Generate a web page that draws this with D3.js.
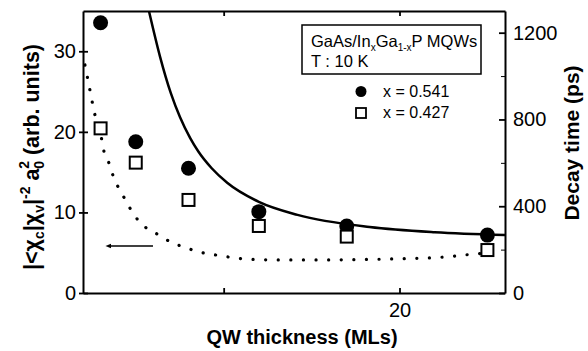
<!DOCTYPE html>
<html>
<head>
<meta charset="utf-8">
<script src="https://cdn.jsdelivr.net/npm/d3@7"></script>
<style>
  body { margin: 0; background: #fff; }
  svg { display: block; font-family: "Liberation Sans", Arial, sans-serif; }
</style>
</head>
<body>
<div id="chart"></div>
<script>
// QW thickness (MLs)
var thickness = [3, 5, 8, 12, 17, 25];
// decay time (ps), right axis
var decay541 = [1246, 697, 575, 375, 309, 267];
var decay427 = [759, 601, 429, 309, 260, 198];

// solid curve (x in MLs, y in ps)
var fitX = [5.75, 6.38, 7.0, 7.52, 8.09, 8.56, 9.32, 10.2, 12.0, 14.2, 18.3, 22, 26];
var fitY = [1300, 1090, 920, 810, 715, 652, 575, 508, 420, 360, 304, 280, 267];

// dotted curve, left axis
var calcX = [2.11, 2.24, 2.68, 3.06, 3.19, 3.48, 3.72, 4.06, 4.43, 4.84, 5.53, 6.32, 7.01, 7.75, 8.43, 9.89, 11.3, 13.2, 15.5, 17.8, 20.0, 22.6, 24.1, 25.4];
var calcY = [28.3, 26.9, 22.1, 19.1, 17.6, 16.1, 14.5, 12.9, 11.5, 9.9, 8.2, 7.2, 6.3, 5.7, 5.2, 4.6, 4.2, 4.1, 4.1, 4.15, 4.25, 4.47, 4.8, 5.0];

var xTicks = [10, 20];
var xLabels = [20];
var leftTicks = [0, 10, 20, 30];
var rightTicks = [0, 400, 800, 1200];
var rightMinor = [200, 600, 1000];

var legendNames = ["x = 0.541", "x = 0.427"];

function init() {
  var w = 588, h = 351;
  var margin = {top: 11, right: 83, bottom: 58, left: 83};

  var svg = d3.select("#chart").append("svg")
    .attr("width", w).attr("height", h);

  var xScale = d3.scaleLinear().domain([2, 26]).range([margin.left, w - margin.right]);
  var yLeft = d3.scaleLinear().domain([0, 35]).range([h - margin.bottom, margin.top]);
  var yRight = d3.scaleLinear().domain([0, 1300]).range([h - margin.bottom, margin.top]);

  var x0 = margin.left, x1 = w - margin.right;
  var y0 = h - margin.bottom, y1 = margin.top;

  svg.append("clipPath").attr("id", "clip")
    .append("rect").attr("x", x0).attr("y", y1)
    .attr("width", x1 - x0).attr("height", y0 - y1);

  // dotted curve
  var calc = calcX.map(function(d, i) { return [d, calcY[i]]; });
  svg.append("path")
    .datum(calc)
    .attr("clip-path", "url(#clip)")
    .attr("fill", "none")
    .attr("stroke", "#000")
    .attr("stroke-width", 3.2)
    .attr("stroke-linecap", "round")
    .attr("stroke-dasharray", "0.1,12.5")
    .attr("d", d3.line()
      .x(function(d) { return xScale(d[0]); })
      .y(function(d) { return yLeft(d[1]); })
      .curve(d3.curveMonotoneX));

  // solid curve
  var fit = fitX.map(function(d, i) { return [d, fitY[i]]; });
  svg.append("path")
    .datum(fit)
    .attr("clip-path", "url(#clip)")
    .attr("fill", "none")
    .attr("stroke", "#000")
    .attr("stroke-width", 2.5)
    .attr("d", d3.line()
      .x(function(d) { return xScale(d[0]); })
      .y(function(d) { return yRight(d[1]); })
      .curve(d3.curveMonotoneX));

  // arrow pointing to the left axis
  svg.append("defs").append("marker")
    .attr("id", "arrow")
    .attr("viewBox", "0 0 10 10")
    .attr("refX", 2).attr("refY", 5)
    .attr("markerWidth", 4).attr("markerHeight", 4)
    .attr("orient", "auto-start-reverse")
    .append("path").attr("d", "M0,1 L10,5 L0,9 Z").attr("fill", "#000");

  svg.append("line")
    .attr("x1", xScale(5.98)).attr("x2", xScale(3.55))
    .attr("y1", yLeft(5.83)).attr("y2", yLeft(5.83))
    .attr("stroke", "#000").attr("stroke-width", 1.5)
    .attr("marker-end", "url(#arrow)");

  // points
  svg.selectAll("circle.p541")
    .data(thickness)
    .enter().append("circle")
    .attr("class", "p541")
    .attr("cx", function(d) { return xScale(d); })
    .attr("cy", function(d, i) { return yRight(decay541[i]); })
    .attr("r", 7.5)
    .attr("fill", "#000");

  var sq = 12;
  svg.selectAll("rect.p427")
    .data(thickness)
    .enter().append("rect")
    .attr("class", "p427")
    .attr("x", function(d) { return xScale(d) - sq / 2; })
    .attr("y", function(d, i) { return yRight(decay427[i]) - sq / 2; })
    .attr("width", sq).attr("height", sq)
    .attr("fill", "#fff")
    .attr("stroke", "#000")
    .attr("stroke-width", 2);

  // axes
  var bottom = svg.append("g")
    .attr("transform", "translate(0," + y0 + ")")
    .call(d3.axisBottom(xScale).tickValues(xTicks)
      .tickSizeInner(-5).tickSizeOuter(0).tickPadding(10)
      .tickFormat(function(d) { return xLabels.indexOf(d) >= 0 ? d : ""; }));

  var top = svg.append("g")
    .attr("transform", "translate(0," + y1 + ")")
    .call(d3.axisTop(xScale).tickValues(xTicks)
      .tickSizeInner(-5).tickSizeOuter(0).tickFormat(""));

  var left = svg.append("g")
    .attr("transform", "translate(" + x0 + ",0)")
    .call(d3.axisLeft(yLeft).tickValues(leftTicks)
      .tickSizeInner(4).tickSizeOuter(0).tickPadding(3));
  left.selectAll(".tick line").attr("x2", -4).attr("x1", 5);

  var right = svg.append("g")
    .attr("transform", "translate(" + x1 + ",0)")
    .call(d3.axisRight(yRight).tickValues(rightTicks)
      .tickSizeInner(-6).tickSizeOuter(0).tickPadding(8)
      .tickFormat(d3.format("d")));

  svg.append("g")
    .attr("transform", "translate(" + x1 + ",0)")
    .call(d3.axisRight(yRight).tickValues(rightMinor)
      .tickSizeInner(-4).tickSizeOuter(0).tickFormat(""))
    .select(".domain").remove();

  [bottom, top, left, right].forEach(function(g) {
    g.selectAll(".domain").attr("stroke-width", 2);
    g.selectAll(".tick line").attr("stroke-width", 1.8);
    g.selectAll("text").attr("font-size", 20).attr("fill", "#000")
      .style("font-family", "'Liberation Sans', Arial, sans-serif");
  });

  // axis titles
  svg.append("text")
    .attr("x", (x0 + x1) / 2 + 8).attr("y", 344)
    .attr("text-anchor", "middle")
    .attr("font-size", 20).attr("font-weight", "bold")
    .text("QW thickness (MLs)");

  svg.append("text")
    .attr("transform", "translate(579," + 143 + ") rotate(-90)")
    .attr("text-anchor", "middle")
    .attr("font-size", 21).attr("font-weight", "bold")
    .text("Decay time (ps)");

  var lt = svg.append("text")
    .attr("transform", "translate(39," + 157 + ") rotate(-90)")
    .attr("text-anchor", "middle")
    .attr("font-size", 21.5).attr("font-weight", "bold");
  lt.append("tspan").text("|<\u03c7");
  lt.append("tspan").attr("font-size", 14).attr("dy", 5).text("c");
  lt.append("tspan").attr("dy", -5).text("|\u03c7");
  lt.append("tspan").attr("font-size", 14).attr("dy", 5).text("v");
  lt.append("tspan").attr("dy", -5).text("|");
  lt.append("tspan").attr("font-size", 14).attr("dy", -9).text("-2");
  lt.append("tspan").attr("dy", 9).text(" a");
  lt.append("tspan").attr("font-size", 14).attr("dy", 5).text("0");
  lt.append("tspan").attr("font-size", 14).attr("dx", -8).attr("dy", -15).text("2");
  lt.append("tspan").attr("dy", 10).text(" (arb. units)");

  // legend
  svg.append("rect")
    .attr("x", 302).attr("y", 25).attr("width", 179).attr("height", 49)
    .attr("fill", "#fff").attr("stroke", "#000").attr("stroke-width", 1.5);

  var t1 = svg.append("text").attr("x", 311).attr("y", 47).attr("font-size", 16.5);
  t1.append("tspan").text("GaAs/In");
  t1.append("tspan").attr("font-size", 10).attr("dy", 4).text("x");
  t1.append("tspan").attr("dy", -4).text("Ga");
  t1.append("tspan").attr("font-size", 10).attr("dy", 4).text("1-x");
  t1.append("tspan").attr("dy", -4).text("P MQWs");

  svg.append("text").attr("x", 311).attr("y", 67).attr("font-size", 16.5).text("T : 10 K");

  svg.append("circle").attr("cx", 361).attr("cy", 91.5).attr("r", 5.5).attr("fill", "#000");
  svg.append("rect").attr("x", 356).attr("y", 108).attr("width", 10).attr("height", 10)
    .attr("fill", "#fff").attr("stroke", "#000").attr("stroke-width", 1.8);

  svg.selectAll("text.leg")
    .data(legendNames)
    .enter().append("text")
    .attr("class", "leg")
    .attr("x", 383)
    .attr("y", function(d, i) { return 97 + i * 21; })
    .attr("font-size", 16)
    .text(function(d) { return d; });
}

window.onload = init;
</script>
</body>
</html>
